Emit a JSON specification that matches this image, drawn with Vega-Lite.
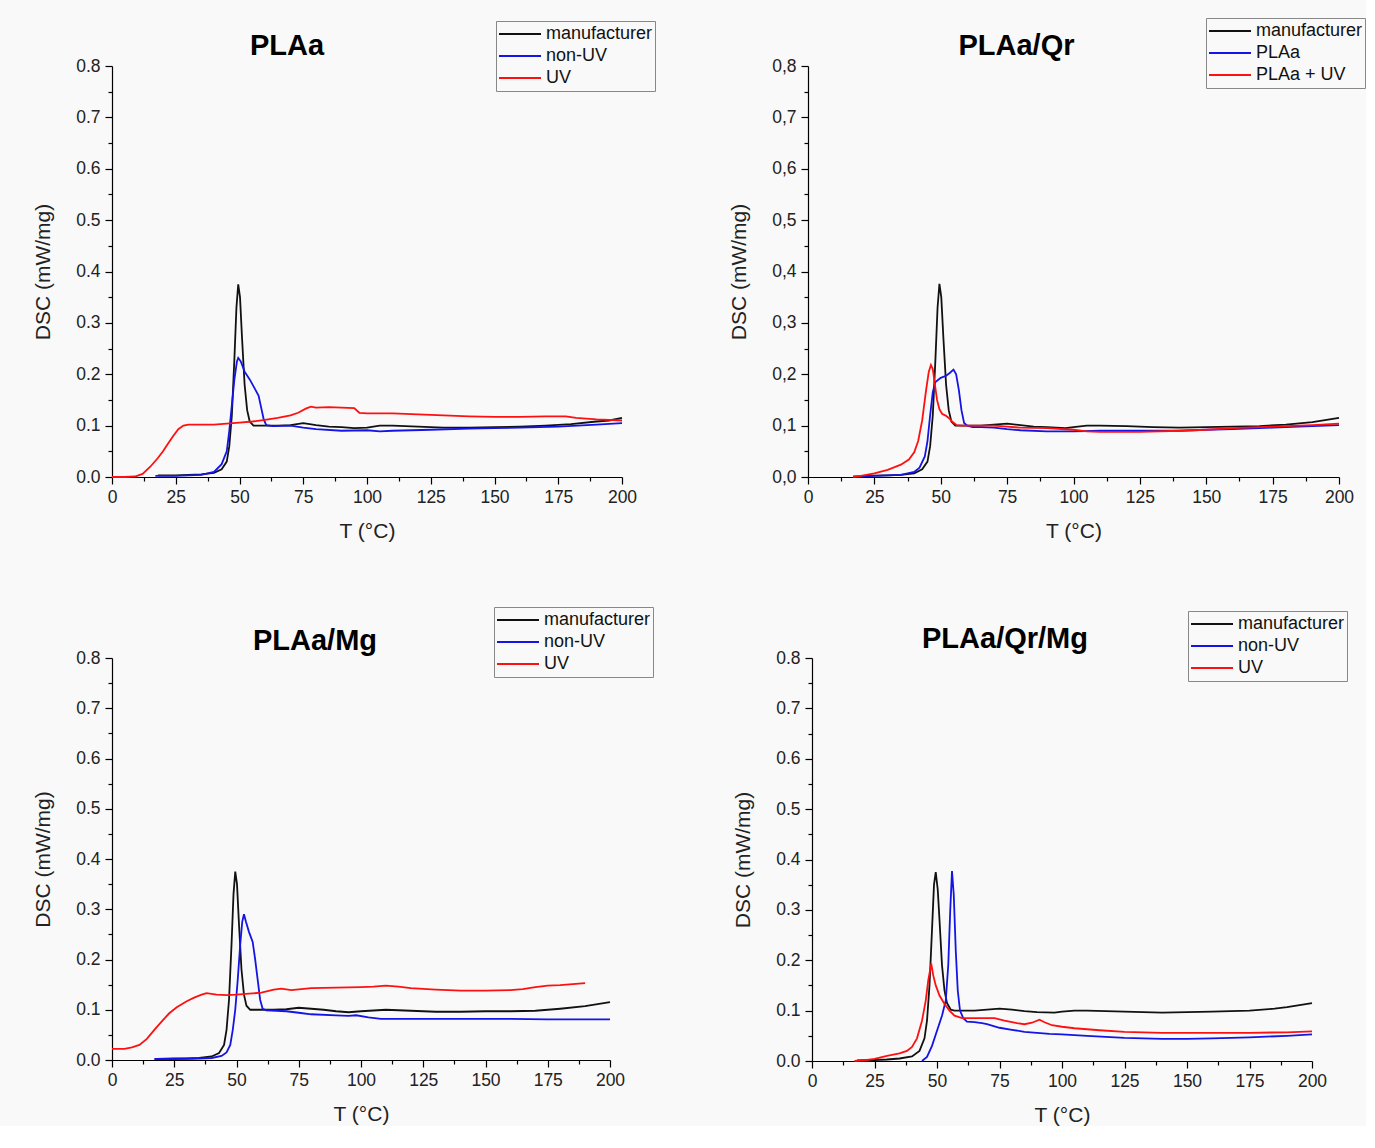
{
  "$schema": "https://vega.github.io/schema/vega-lite/v6.json",
  "background": "#f9f9f9",
  "padding": {"left": 32, "top": 17, "right": 0, "bottom": 0},
  "config": {
    "view": {"stroke": null},
    "font": "Liberation Sans",
    "axis": {"grid": false, "domainColor": "#000", "domainWidth": 1.2, "tickColor": "#000", "tickWidth": 1.2, "labelFont": "Liberation Sans", "labelFontSize": 17.5, "labelColor": "#222", "titleFont": "Liberation Sans", "titleFontSize": 21, "titleFontWeight": "normal", "titleColor": "#222", "labelOverlap": false, "labelFlush": false},
    "axisX": {"titlePadding": 15, "labelPadding": 4},
    "axisY": {"titlePadding": 22, "labelPadding": 5},
    "title": {"font": "Liberation Sans", "fontSize": 29, "fontWeight": "bold", "color": "#000", "anchor": "middle", "frame": "group"},
    "legend": {"orient": "none", "title": null, "symbolType": "stroke", "symbolSize": 1764, "symbolStrokeWidth": 2, "labelFont": "Liberation Sans", "labelFontSize": 18, "labelColor": "#111", "strokeColor": "#888", "padding": 2, "labelOffset": 4, "rowPadding": 0, "clipHeight": 22},
    "line": {"strokeWidth": 1.8}
  },
  "datasets": {
    "p1": [
      {"T":18,"DSC":0.003,"s":"manufacturer"},{"T":25,"DSC":0.003,"s":"manufacturer"},{"T":30,"DSC":0.004,"s":"manufacturer"},{"T":35,"DSC":0.005,"s":"manufacturer"},{"T":40,"DSC":0.008,"s":"manufacturer"},{"T":43,"DSC":0.015,"s":"manufacturer"},{"T":45,"DSC":0.03,"s":"manufacturer"},{"T":46,"DSC":0.06,"s":"manufacturer"},{"T":47,"DSC":0.12,"s":"manufacturer"},{"T":48,"DSC":0.23,"s":"manufacturer"},{"T":48.8,"DSC":0.33,"s":"manufacturer"},{"T":49.5,"DSC":0.375,"s":"manufacturer"},{"T":50.2,"DSC":0.35,"s":"manufacturer"},{"T":51,"DSC":0.27,"s":"manufacturer"},{"T":52,"DSC":0.18,"s":"manufacturer"},{"T":53,"DSC":0.13,"s":"manufacturer"},{"T":54,"DSC":0.108,"s":"manufacturer"},{"T":55.5,"DSC":0.1,"s":"manufacturer"},{"T":60,"DSC":0.1,"s":"manufacturer"},{"T":65,"DSC":0.1,"s":"manufacturer"},{"T":70,"DSC":0.101,"s":"manufacturer"},{"T":75,"DSC":0.105,"s":"manufacturer"},{"T":80,"DSC":0.101,"s":"manufacturer"},{"T":85,"DSC":0.098,"s":"manufacturer"},{"T":90,"DSC":0.097,"s":"manufacturer"},{"T":95,"DSC":0.095,"s":"manufacturer"},{"T":100,"DSC":0.096,"s":"manufacturer"},{"T":105,"DSC":0.1,"s":"manufacturer"},{"T":110,"DSC":0.1,"s":"manufacturer"},{"T":120,"DSC":0.098,"s":"manufacturer"},{"T":130,"DSC":0.096,"s":"manufacturer"},{"T":140,"DSC":0.096,"s":"manufacturer"},{"T":150,"DSC":0.097,"s":"manufacturer"},{"T":160,"DSC":0.098,"s":"manufacturer"},{"T":170,"DSC":0.1,"s":"manufacturer"},{"T":180,"DSC":0.103,"s":"manufacturer"},{"T":190,"DSC":0.108,"s":"manufacturer"},{"T":195,"DSC":0.11,"s":"manufacturer"},{"T":200,"DSC":0.115,"s":"manufacturer"},
      {"T":17,"DSC":0.002,"s":"non-UV"},{"T":25,"DSC":0.002,"s":"non-UV"},{"T":30,"DSC":0.003,"s":"non-UV"},{"T":35,"DSC":0.004,"s":"non-UV"},{"T":40,"DSC":0.01,"s":"non-UV"},{"T":43,"DSC":0.025,"s":"non-UV"},{"T":45,"DSC":0.05,"s":"non-UV"},{"T":46,"DSC":0.09,"s":"non-UV"},{"T":47,"DSC":0.14,"s":"non-UV"},{"T":48,"DSC":0.19,"s":"non-UV"},{"T":49,"DSC":0.225,"s":"non-UV"},{"T":49.5,"DSC":0.232,"s":"non-UV"},{"T":50.5,"DSC":0.225,"s":"non-UV"},{"T":52,"DSC":0.205,"s":"non-UV"},{"T":54,"DSC":0.19,"s":"non-UV"},{"T":56,"DSC":0.172,"s":"non-UV"},{"T":57.5,"DSC":0.158,"s":"non-UV"},{"T":58.5,"DSC":0.135,"s":"non-UV"},{"T":59.5,"DSC":0.112,"s":"non-UV"},{"T":60.5,"DSC":0.101,"s":"non-UV"},{"T":63,"DSC":0.099,"s":"non-UV"},{"T":70,"DSC":0.1,"s":"non-UV"},{"T":75,"DSC":0.096,"s":"non-UV"},{"T":80,"DSC":0.093,"s":"non-UV"},{"T":90,"DSC":0.09,"s":"non-UV"},{"T":100,"DSC":0.091,"s":"non-UV"},{"T":105,"DSC":0.089,"s":"non-UV"},{"T":110,"DSC":0.09,"s":"non-UV"},{"T":125,"DSC":0.092,"s":"non-UV"},{"T":140,"DSC":0.094,"s":"non-UV"},{"T":150,"DSC":0.095,"s":"non-UV"},{"T":160,"DSC":0.096,"s":"non-UV"},{"T":175,"DSC":0.098,"s":"non-UV"},{"T":190,"DSC":0.102,"s":"non-UV"},{"T":200,"DSC":0.105,"s":"non-UV"},
      {"T":0,"DSC":0,"s":"UV"},{"T":5,"DSC":0,"s":"UV"},{"T":9,"DSC":0.001,"s":"UV"},{"T":12,"DSC":0.006,"s":"UV"},{"T":15,"DSC":0.02,"s":"UV"},{"T":18,"DSC":0.037,"s":"UV"},{"T":20,"DSC":0.05,"s":"UV"},{"T":22,"DSC":0.065,"s":"UV"},{"T":24,"DSC":0.08,"s":"UV"},{"T":26,"DSC":0.093,"s":"UV"},{"T":28,"DSC":0.1,"s":"UV"},{"T":30,"DSC":0.102,"s":"UV"},{"T":35,"DSC":0.102,"s":"UV"},{"T":40,"DSC":0.102,"s":"UV"},{"T":45,"DSC":0.104,"s":"UV"},{"T":50,"DSC":0.106,"s":"UV"},{"T":55,"DSC":0.108,"s":"UV"},{"T":60,"DSC":0.111,"s":"UV"},{"T":65,"DSC":0.115,"s":"UV"},{"T":70,"DSC":0.12,"s":"UV"},{"T":73,"DSC":0.125,"s":"UV"},{"T":76,"DSC":0.133,"s":"UV"},{"T":78,"DSC":0.137,"s":"UV"},{"T":80,"DSC":0.135,"s":"UV"},{"T":85,"DSC":0.136,"s":"UV"},{"T":90,"DSC":0.135,"s":"UV"},{"T":95,"DSC":0.134,"s":"UV"},{"T":97,"DSC":0.125,"s":"UV"},{"T":100,"DSC":0.124,"s":"UV"},{"T":110,"DSC":0.124,"s":"UV"},{"T":120,"DSC":0.122,"s":"UV"},{"T":130,"DSC":0.12,"s":"UV"},{"T":140,"DSC":0.118,"s":"UV"},{"T":150,"DSC":0.117,"s":"UV"},{"T":160,"DSC":0.117,"s":"UV"},{"T":170,"DSC":0.118,"s":"UV"},{"T":178,"DSC":0.118,"s":"UV"},{"T":182,"DSC":0.115,"s":"UV"},{"T":190,"DSC":0.112,"s":"UV"},{"T":200,"DSC":0.11,"s":"UV"}
    ],
    "p2": [
      {"T":20,"DSC":0.002,"s":"manufacturer"},{"T":30,"DSC":0.003,"s":"manufacturer"},{"T":35,"DSC":0.004,"s":"manufacturer"},{"T":40,"DSC":0.007,"s":"manufacturer"},{"T":43,"DSC":0.015,"s":"manufacturer"},{"T":45,"DSC":0.03,"s":"manufacturer"},{"T":46,"DSC":0.06,"s":"manufacturer"},{"T":47,"DSC":0.12,"s":"manufacturer"},{"T":48,"DSC":0.23,"s":"manufacturer"},{"T":48.8,"DSC":0.33,"s":"manufacturer"},{"T":49.5,"DSC":0.376,"s":"manufacturer"},{"T":50.2,"DSC":0.35,"s":"manufacturer"},{"T":51,"DSC":0.27,"s":"manufacturer"},{"T":52,"DSC":0.18,"s":"manufacturer"},{"T":53,"DSC":0.13,"s":"manufacturer"},{"T":54,"DSC":0.108,"s":"manufacturer"},{"T":55.5,"DSC":0.1,"s":"manufacturer"},{"T":60,"DSC":0.1,"s":"manufacturer"},{"T":65,"DSC":0.1,"s":"manufacturer"},{"T":70,"DSC":0.102,"s":"manufacturer"},{"T":75,"DSC":0.104,"s":"manufacturer"},{"T":80,"DSC":0.101,"s":"manufacturer"},{"T":85,"DSC":0.098,"s":"manufacturer"},{"T":90,"DSC":0.097,"s":"manufacturer"},{"T":97,"DSC":0.095,"s":"manufacturer"},{"T":100,"DSC":0.097,"s":"manufacturer"},{"T":105,"DSC":0.1,"s":"manufacturer"},{"T":110,"DSC":0.1,"s":"manufacturer"},{"T":120,"DSC":0.099,"s":"manufacturer"},{"T":130,"DSC":0.097,"s":"manufacturer"},{"T":140,"DSC":0.096,"s":"manufacturer"},{"T":150,"DSC":0.097,"s":"manufacturer"},{"T":160,"DSC":0.098,"s":"manufacturer"},{"T":170,"DSC":0.099,"s":"manufacturer"},{"T":180,"DSC":0.102,"s":"manufacturer"},{"T":190,"DSC":0.107,"s":"manufacturer"},{"T":200,"DSC":0.115,"s":"manufacturer"},
      {"T":17,"DSC":0.001,"s":"PLAa"},{"T":25,"DSC":0.002,"s":"PLAa"},{"T":30,"DSC":0.003,"s":"PLAa"},{"T":35,"DSC":0.004,"s":"PLAa"},{"T":40,"DSC":0.01,"s":"PLAa"},{"T":42,"DSC":0.018,"s":"PLAa"},{"T":44,"DSC":0.04,"s":"PLAa"},{"T":45,"DSC":0.07,"s":"PLAa"},{"T":46,"DSC":0.12,"s":"PLAa"},{"T":47,"DSC":0.165,"s":"PLAa"},{"T":48,"DSC":0.185,"s":"PLAa"},{"T":50,"DSC":0.193,"s":"PLAa"},{"T":52,"DSC":0.197,"s":"PLAa"},{"T":53.5,"DSC":0.203,"s":"PLAa"},{"T":54.8,"DSC":0.209,"s":"PLAa"},{"T":55.8,"DSC":0.2,"s":"PLAa"},{"T":56.8,"DSC":0.17,"s":"PLAa"},{"T":57.8,"DSC":0.13,"s":"PLAa"},{"T":58.8,"DSC":0.105,"s":"PLAa"},{"T":60,"DSC":0.1,"s":"PLAa"},{"T":62,"DSC":0.097,"s":"PLAa"},{"T":65,"DSC":0.097,"s":"PLAa"},{"T":70,"DSC":0.096,"s":"PLAa"},{"T":75,"DSC":0.093,"s":"PLAa"},{"T":80,"DSC":0.091,"s":"PLAa"},{"T":90,"DSC":0.089,"s":"PLAa"},{"T":100,"DSC":0.089,"s":"PLAa"},{"T":110,"DSC":0.09,"s":"PLAa"},{"T":125,"DSC":0.09,"s":"PLAa"},{"T":140,"DSC":0.09,"s":"PLAa"},{"T":150,"DSC":0.092,"s":"PLAa"},{"T":160,"DSC":0.093,"s":"PLAa"},{"T":175,"DSC":0.096,"s":"PLAa"},{"T":190,"DSC":0.099,"s":"PLAa"},{"T":200,"DSC":0.101,"s":"PLAa"},
      {"T":17,"DSC":0,"s":"PLAa + UV"},{"T":20,"DSC":0.002,"s":"PLAa + UV"},{"T":25,"DSC":0.007,"s":"PLAa + UV"},{"T":30,"DSC":0.014,"s":"PLAa + UV"},{"T":35,"DSC":0.024,"s":"PLAa + UV"},{"T":38,"DSC":0.034,"s":"PLAa + UV"},{"T":40,"DSC":0.048,"s":"PLAa + UV"},{"T":41.5,"DSC":0.07,"s":"PLAa + UV"},{"T":43,"DSC":0.11,"s":"PLAa + UV"},{"T":44.5,"DSC":0.17,"s":"PLAa + UV"},{"T":45.5,"DSC":0.205,"s":"PLAa + UV"},{"T":46.3,"DSC":0.218,"s":"PLAa + UV"},{"T":47,"DSC":0.21,"s":"PLAa + UV"},{"T":47.8,"DSC":0.18,"s":"PLAa + UV"},{"T":48.6,"DSC":0.15,"s":"PLAa + UV"},{"T":49.5,"DSC":0.132,"s":"PLAa + UV"},{"T":50.5,"DSC":0.123,"s":"PLAa + UV"},{"T":52,"DSC":0.119,"s":"PLAa + UV"},{"T":53,"DSC":0.115,"s":"PLAa + UV"},{"T":54.5,"DSC":0.107,"s":"PLAa + UV"},{"T":56,"DSC":0.101,"s":"PLAa + UV"},{"T":58,"DSC":0.1,"s":"PLAa + UV"},{"T":65,"DSC":0.1,"s":"PLAa + UV"},{"T":70,"DSC":0.1,"s":"PLAa + UV"},{"T":75,"DSC":0.098,"s":"PLAa + UV"},{"T":80,"DSC":0.096,"s":"PLAa + UV"},{"T":90,"DSC":0.095,"s":"PLAa + UV"},{"T":100,"DSC":0.092,"s":"PLAa + UV"},{"T":105,"DSC":0.089,"s":"PLAa + UV"},{"T":110,"DSC":0.088,"s":"PLAa + UV"},{"T":125,"DSC":0.088,"s":"PLAa + UV"},{"T":140,"DSC":0.09,"s":"PLAa + UV"},{"T":150,"DSC":0.092,"s":"PLAa + UV"},{"T":160,"DSC":0.095,"s":"PLAa + UV"},{"T":175,"DSC":0.098,"s":"PLAa + UV"},{"T":190,"DSC":0.101,"s":"PLAa + UV"},{"T":200,"DSC":0.104,"s":"PLAa + UV"}
    ],
    "p3": [
      {"T":18,"DSC":0.002,"s":"manufacturer"},{"T":25,"DSC":0.003,"s":"manufacturer"},{"T":30,"DSC":0.003,"s":"manufacturer"},{"T":35,"DSC":0.004,"s":"manufacturer"},{"T":40,"DSC":0.007,"s":"manufacturer"},{"T":43,"DSC":0.014,"s":"manufacturer"},{"T":45,"DSC":0.03,"s":"manufacturer"},{"T":46,"DSC":0.06,"s":"manufacturer"},{"T":47,"DSC":0.12,"s":"manufacturer"},{"T":48,"DSC":0.23,"s":"manufacturer"},{"T":48.8,"DSC":0.33,"s":"manufacturer"},{"T":49.5,"DSC":0.375,"s":"manufacturer"},{"T":50.2,"DSC":0.35,"s":"manufacturer"},{"T":51,"DSC":0.27,"s":"manufacturer"},{"T":52,"DSC":0.18,"s":"manufacturer"},{"T":53,"DSC":0.13,"s":"manufacturer"},{"T":54,"DSC":0.108,"s":"manufacturer"},{"T":55.5,"DSC":0.1,"s":"manufacturer"},{"T":60,"DSC":0.1,"s":"manufacturer"},{"T":65,"DSC":0.1,"s":"manufacturer"},{"T":70,"DSC":0.101,"s":"manufacturer"},{"T":75,"DSC":0.104,"s":"manufacturer"},{"T":80,"DSC":0.102,"s":"manufacturer"},{"T":85,"DSC":0.1,"s":"manufacturer"},{"T":90,"DSC":0.097,"s":"manufacturer"},{"T":95,"DSC":0.095,"s":"manufacturer"},{"T":100,"DSC":0.097,"s":"manufacturer"},{"T":110,"DSC":0.1,"s":"manufacturer"},{"T":120,"DSC":0.098,"s":"manufacturer"},{"T":130,"DSC":0.096,"s":"manufacturer"},{"T":140,"DSC":0.096,"s":"manufacturer"},{"T":150,"DSC":0.097,"s":"manufacturer"},{"T":160,"DSC":0.097,"s":"manufacturer"},{"T":170,"DSC":0.098,"s":"manufacturer"},{"T":180,"DSC":0.102,"s":"manufacturer"},{"T":190,"DSC":0.107,"s":"manufacturer"},{"T":200,"DSC":0.115,"s":"manufacturer"},
      {"T":17,"DSC":0.002,"s":"non-UV"},{"T":25,"DSC":0.002,"s":"non-UV"},{"T":35,"DSC":0.003,"s":"non-UV"},{"T":40,"DSC":0.004,"s":"non-UV"},{"T":44,"DSC":0.008,"s":"non-UV"},{"T":46,"DSC":0.015,"s":"non-UV"},{"T":47.5,"DSC":0.03,"s":"non-UV"},{"T":48.5,"DSC":0.06,"s":"non-UV"},{"T":49.5,"DSC":0.1,"s":"non-UV"},{"T":50.5,"DSC":0.16,"s":"non-UV"},{"T":51.5,"DSC":0.23,"s":"non-UV"},{"T":52.3,"DSC":0.275,"s":"non-UV"},{"T":53,"DSC":0.29,"s":"non-UV"},{"T":53.8,"DSC":0.275,"s":"non-UV"},{"T":55,"DSC":0.255,"s":"non-UV"},{"T":56.5,"DSC":0.235,"s":"non-UV"},{"T":57.5,"DSC":0.2,"s":"non-UV"},{"T":58.5,"DSC":0.16,"s":"non-UV"},{"T":59.5,"DSC":0.12,"s":"non-UV"},{"T":60.5,"DSC":0.102,"s":"non-UV"},{"T":62,"DSC":0.099,"s":"non-UV"},{"T":70,"DSC":0.097,"s":"non-UV"},{"T":75,"DSC":0.094,"s":"non-UV"},{"T":80,"DSC":0.091,"s":"non-UV"},{"T":90,"DSC":0.089,"s":"non-UV"},{"T":95,"DSC":0.088,"s":"non-UV"},{"T":98,"DSC":0.089,"s":"non-UV"},{"T":103,"DSC":0.085,"s":"non-UV"},{"T":108,"DSC":0.082,"s":"non-UV"},{"T":125,"DSC":0.082,"s":"non-UV"},{"T":150,"DSC":0.082,"s":"non-UV"},{"T":160,"DSC":0.082,"s":"non-UV"},{"T":175,"DSC":0.081,"s":"non-UV"},{"T":190,"DSC":0.081,"s":"non-UV"},{"T":200,"DSC":0.081,"s":"non-UV"},
      {"T":0,"DSC":0.022,"s":"UV"},{"T":5,"DSC":0.022,"s":"UV"},{"T":8,"DSC":0.025,"s":"UV"},{"T":11,"DSC":0.03,"s":"UV"},{"T":14,"DSC":0.042,"s":"UV"},{"T":17,"DSC":0.06,"s":"UV"},{"T":20,"DSC":0.077,"s":"UV"},{"T":23,"DSC":0.093,"s":"UV"},{"T":26,"DSC":0.105,"s":"UV"},{"T":30,"DSC":0.117,"s":"UV"},{"T":33,"DSC":0.124,"s":"UV"},{"T":36,"DSC":0.13,"s":"UV"},{"T":38,"DSC":0.133,"s":"UV"},{"T":42,"DSC":0.13,"s":"UV"},{"T":46,"DSC":0.129,"s":"UV"},{"T":50,"DSC":0.13,"s":"UV"},{"T":55,"DSC":0.132,"s":"UV"},{"T":60,"DSC":0.134,"s":"UV"},{"T":65,"DSC":0.14,"s":"UV"},{"T":68,"DSC":0.142,"s":"UV"},{"T":72,"DSC":0.139,"s":"UV"},{"T":76,"DSC":0.141,"s":"UV"},{"T":80,"DSC":0.143,"s":"UV"},{"T":90,"DSC":0.144,"s":"UV"},{"T":100,"DSC":0.145,"s":"UV"},{"T":105,"DSC":0.146,"s":"UV"},{"T":110,"DSC":0.148,"s":"UV"},{"T":115,"DSC":0.146,"s":"UV"},{"T":120,"DSC":0.143,"s":"UV"},{"T":130,"DSC":0.14,"s":"UV"},{"T":140,"DSC":0.138,"s":"UV"},{"T":150,"DSC":0.138,"s":"UV"},{"T":160,"DSC":0.139,"s":"UV"},{"T":165,"DSC":0.141,"s":"UV"},{"T":170,"DSC":0.145,"s":"UV"},{"T":175,"DSC":0.148,"s":"UV"},{"T":180,"DSC":0.149,"s":"UV"},{"T":185,"DSC":0.151,"s":"UV"},{"T":190,"DSC":0.153,"s":"UV"}
    ],
    "p4": [
      {"T":18,"DSC":0.001,"s":"manufacturer"},{"T":25,"DSC":0.002,"s":"manufacturer"},{"T":30,"DSC":0.003,"s":"manufacturer"},{"T":35,"DSC":0.005,"s":"manufacturer"},{"T":40,"DSC":0.009,"s":"manufacturer"},{"T":43,"DSC":0.02,"s":"manufacturer"},{"T":45,"DSC":0.045,"s":"manufacturer"},{"T":46,"DSC":0.08,"s":"manufacturer"},{"T":47,"DSC":0.15,"s":"manufacturer"},{"T":48,"DSC":0.26,"s":"manufacturer"},{"T":48.8,"DSC":0.35,"s":"manufacturer"},{"T":49.5,"DSC":0.375,"s":"manufacturer"},{"T":50.3,"DSC":0.34,"s":"manufacturer"},{"T":51,"DSC":0.28,"s":"manufacturer"},{"T":52,"DSC":0.19,"s":"manufacturer"},{"T":53,"DSC":0.14,"s":"manufacturer"},{"T":54,"DSC":0.115,"s":"manufacturer"},{"T":55.5,"DSC":0.102,"s":"manufacturer"},{"T":57,"DSC":0.1,"s":"manufacturer"},{"T":65,"DSC":0.1,"s":"manufacturer"},{"T":70,"DSC":0.102,"s":"manufacturer"},{"T":75,"DSC":0.104,"s":"manufacturer"},{"T":80,"DSC":0.102,"s":"manufacturer"},{"T":85,"DSC":0.099,"s":"manufacturer"},{"T":90,"DSC":0.097,"s":"manufacturer"},{"T":97,"DSC":0.096,"s":"manufacturer"},{"T":100,"DSC":0.098,"s":"manufacturer"},{"T":105,"DSC":0.1,"s":"manufacturer"},{"T":110,"DSC":0.1,"s":"manufacturer"},{"T":125,"DSC":0.098,"s":"manufacturer"},{"T":140,"DSC":0.096,"s":"manufacturer"},{"T":150,"DSC":0.097,"s":"manufacturer"},{"T":160,"DSC":0.098,"s":"manufacturer"},{"T":175,"DSC":0.1,"s":"manufacturer"},{"T":185,"DSC":0.104,"s":"manufacturer"},{"T":190,"DSC":0.107,"s":"manufacturer"},{"T":200,"DSC":0.115,"s":"manufacturer"},
      {"T":44,"DSC":0,"s":"non-UV"},{"T":46,"DSC":0.008,"s":"non-UV"},{"T":48,"DSC":0.03,"s":"non-UV"},{"T":50,"DSC":0.06,"s":"non-UV"},{"T":52,"DSC":0.09,"s":"non-UV"},{"T":53.5,"DSC":0.12,"s":"non-UV"},{"T":54.5,"DSC":0.19,"s":"non-UV"},{"T":55.3,"DSC":0.3,"s":"non-UV"},{"T":56,"DSC":0.377,"s":"non-UV"},{"T":56.7,"DSC":0.33,"s":"non-UV"},{"T":57.5,"DSC":0.22,"s":"non-UV"},{"T":58.3,"DSC":0.14,"s":"non-UV"},{"T":59.2,"DSC":0.1,"s":"non-UV"},{"T":60.5,"DSC":0.085,"s":"non-UV"},{"T":62,"DSC":0.078,"s":"non-UV"},{"T":65,"DSC":0.077,"s":"non-UV"},{"T":68,"DSC":0.075,"s":"non-UV"},{"T":70,"DSC":0.073,"s":"non-UV"},{"T":75,"DSC":0.066,"s":"non-UV"},{"T":80,"DSC":0.062,"s":"non-UV"},{"T":85,"DSC":0.058,"s":"non-UV"},{"T":90,"DSC":0.056,"s":"non-UV"},{"T":95,"DSC":0.054,"s":"non-UV"},{"T":100,"DSC":0.053,"s":"non-UV"},{"T":110,"DSC":0.05,"s":"non-UV"},{"T":125,"DSC":0.046,"s":"non-UV"},{"T":140,"DSC":0.044,"s":"non-UV"},{"T":150,"DSC":0.044,"s":"non-UV"},{"T":160,"DSC":0.045,"s":"non-UV"},{"T":175,"DSC":0.047,"s":"non-UV"},{"T":190,"DSC":0.05,"s":"non-UV"},{"T":200,"DSC":0.053,"s":"non-UV"},
      {"T":17,"DSC":0,"s":"UV"},{"T":22,"DSC":0.002,"s":"UV"},{"T":25,"DSC":0.004,"s":"UV"},{"T":30,"DSC":0.01,"s":"UV"},{"T":35,"DSC":0.015,"s":"UV"},{"T":38,"DSC":0.02,"s":"UV"},{"T":40,"DSC":0.028,"s":"UV"},{"T":42,"DSC":0.045,"s":"UV"},{"T":44,"DSC":0.08,"s":"UV"},{"T":45.5,"DSC":0.12,"s":"UV"},{"T":46.5,"DSC":0.16,"s":"UV"},{"T":47.7,"DSC":0.193,"s":"UV"},{"T":48.5,"DSC":0.17,"s":"UV"},{"T":49.5,"DSC":0.15,"s":"UV"},{"T":51,"DSC":0.13,"s":"UV"},{"T":53,"DSC":0.113,"s":"UV"},{"T":55,"DSC":0.1,"s":"UV"},{"T":57,"DSC":0.09,"s":"UV"},{"T":60,"DSC":0.085,"s":"UV"},{"T":65,"DSC":0.085,"s":"UV"},{"T":70,"DSC":0.085,"s":"UV"},{"T":73,"DSC":0.085,"s":"UV"},{"T":77,"DSC":0.08,"s":"UV"},{"T":82,"DSC":0.075,"s":"UV"},{"T":85,"DSC":0.073,"s":"UV"},{"T":88,"DSC":0.076,"s":"UV"},{"T":91,"DSC":0.082,"s":"UV"},{"T":93,"DSC":0.077,"s":"UV"},{"T":96,"DSC":0.071,"s":"UV"},{"T":100,"DSC":0.068,"s":"UV"},{"T":105,"DSC":0.065,"s":"UV"},{"T":115,"DSC":0.061,"s":"UV"},{"T":125,"DSC":0.058,"s":"UV"},{"T":140,"DSC":0.056,"s":"UV"},{"T":150,"DSC":0.056,"s":"UV"},{"T":175,"DSC":0.056,"s":"UV"},{"T":190,"DSC":0.057,"s":"UV"},{"T":200,"DSC":0.059,"s":"UV"}
    ]
  },
  "vconcat": [
    {
      "hconcat": [
        {
          "width": 510, "height": 411,
          "data": {"name": "p1"},
          "title": {"text": "PLAa", "dx": -80, "dy": 44},
          "mark": {"type": "line"},
          "encoding": {
            "x": {"field": "T", "type": "quantitative", "title": "T (°C)", "scale": {"domain": [0, 200], "nice": false},
              "axis": {"values": [0,12.5,25,37.5,50,62.5,75,87.5,100,112.5,125,137.5,150,162.5,175,187.5,200], "labelExpr": "datum.value % 25 === 0 ? datum.label : ''", "format": "d", "tickSize": {"condition": {"test": "datum.value % 25 === 0", "value": 7}, "value": 4}}},
            "y": {"field": "DSC", "type": "quantitative", "title": "DSC (mW/mg)", "scale": {"domain": [0, 0.8], "nice": false},
              "axis": {"values": [0,0.05,0.1,0.15,0.2,0.25,0.3,0.35,0.4,0.45,0.5,0.55,0.6,0.65,0.7,0.75,0.8], "labelExpr": "abs(datum.value*10 - round(datum.value*10)) < 0.01 ? format(datum.value, '.1f') : ''", "tickSize": {"condition": {"test": "abs(datum.value*10 - round(datum.value*10)) < 0.01", "value": 7}, "value": 4}}},
            "color": {"field": "s", "type": "nominal", "scale": {"domain": ["manufacturer", "non-UV", "UV"], "range": ["#111111", "#1414e6", "#ff1010"]},
              "legend": {"legendX": 384, "legendY": -45}}
          }
        },
        {
          "width": 531, "height": 411,
          "data": {"name": "p2"},
          "title": {"text": "PLAa/Qr", "dx": -57, "dy": 47},
          "mark": {"type": "line"},
          "encoding": {
            "x": {"field": "T", "type": "quantitative", "title": "T (°C)", "scale": {"domain": [0, 200], "nice": false},
              "axis": {"values": [0,12.5,25,37.5,50,62.5,75,87.5,100,112.5,125,137.5,150,162.5,175,187.5,200], "labelExpr": "datum.value % 25 === 0 ? datum.label : ''", "format": "d", "tickSize": {"condition": {"test": "datum.value % 25 === 0", "value": 7}, "value": 4}}},
            "y": {"field": "DSC", "type": "quantitative", "title": "DSC (mW/mg)", "scale": {"domain": [0, 0.8], "nice": false},
              "axis": {"values": [0,0.05,0.1,0.15,0.2,0.25,0.3,0.35,0.4,0.45,0.5,0.55,0.6,0.65,0.7,0.75,0.8], "labelExpr": "abs(datum.value*10 - round(datum.value*10)) < 0.01 ? replace(format(datum.value, '.1f'), '.', ',') : ''", "tickSize": {"condition": {"test": "abs(datum.value*10 - round(datum.value*10)) < 0.01", "value": 7}, "value": 4}}},
            "color": {"field": "s", "type": "nominal", "scale": {"domain": ["manufacturer", "PLAa", "PLAa + UV"], "range": ["#111111", "#1414e6", "#ff1010"]},
              "legend": {"legendX": 398, "legendY": -48}}
          }
        }
      ],
      "spacing": 72,
      "resolve": {"scale": {"color": "independent"}, "legend": {"color": "independent"}}
    },
    {
      "hconcat": [
        {
          "width": 498, "height": 402,
          "data": {"name": "p3"},
          "title": {"text": "PLAa/Mg", "dx": -46, "dy": 53},
          "mark": {"type": "line"},
          "encoding": {
            "x": {"field": "T", "type": "quantitative", "title": "T (°C)", "scale": {"domain": [0, 200], "nice": false},
              "axis": {"values": [0,12.5,25,37.5,50,62.5,75,87.5,100,112.5,125,137.5,150,162.5,175,187.5,200], "labelExpr": "datum.value % 25 === 0 ? datum.label : ''", "format": "d", "tickSize": {"condition": {"test": "datum.value % 25 === 0", "value": 7}, "value": 4}}},
            "y": {"field": "DSC", "type": "quantitative", "title": "DSC (mW/mg)", "scale": {"domain": [0, 0.8], "nice": false},
              "axis": {"values": [0,0.05,0.1,0.15,0.2,0.25,0.3,0.35,0.4,0.45,0.5,0.55,0.6,0.65,0.7,0.75,0.8], "labelExpr": "abs(datum.value*10 - round(datum.value*10)) < 0.01 ? format(datum.value, '.1f') : ''", "tickSize": {"condition": {"test": "abs(datum.value*10 - round(datum.value*10)) < 0.01", "value": 7}, "value": 4}}},
            "color": {"field": "s", "type": "nominal", "scale": {"domain": ["manufacturer", "non-UV", "UV"], "range": ["#111111", "#1414e6", "#ff1010"]},
              "legend": {"legendX": 382, "legendY": -51}}
          }
        },
        {
          "width": 500, "height": 403,
          "data": {"name": "p4"},
          "title": {"text": "PLAa/Qr/Mg", "dx": -57, "dy": 47},
          "mark": {"type": "line"},
          "encoding": {
            "x": {"field": "T", "type": "quantitative", "title": "T (°C)", "scale": {"domain": [0, 200], "nice": false},
              "axis": {"values": [0,12.5,25,37.5,50,62.5,75,87.5,100,112.5,125,137.5,150,162.5,175,187.5,200], "labelExpr": "datum.value % 25 === 0 ? datum.label : ''", "format": "d", "tickSize": {"condition": {"test": "datum.value % 25 === 0", "value": 7}, "value": 4}}},
            "y": {"field": "DSC", "type": "quantitative", "title": "DSC (mW/mg)", "scale": {"domain": [0, 0.8], "nice": false},
              "axis": {"values": [0,0.05,0.1,0.15,0.2,0.25,0.3,0.35,0.4,0.45,0.5,0.55,0.6,0.65,0.7,0.75,0.8], "labelExpr": "abs(datum.value*10 - round(datum.value*10)) < 0.01 ? format(datum.value, '.1f') : ''", "tickSize": {"condition": {"test": "abs(datum.value*10 - round(datum.value*10)) < 0.01", "value": 7}, "value": 4}}},
            "color": {"field": "s", "type": "nominal", "scale": {"domain": ["manufacturer", "non-UV", "UV"], "range": ["#111111", "#1414e6", "#ff1010"]},
              "legend": {"legendX": 376, "legendY": -47}}
          }
        }
      ],
      "spacing": 78,
      "resolve": {"scale": {"color": "independent"}, "legend": {"color": "independent"}}
    }
  ],
  "spacing": 64,
  "resolve": {"scale": {"color": "independent"}, "legend": {"color": "independent"}}
}
